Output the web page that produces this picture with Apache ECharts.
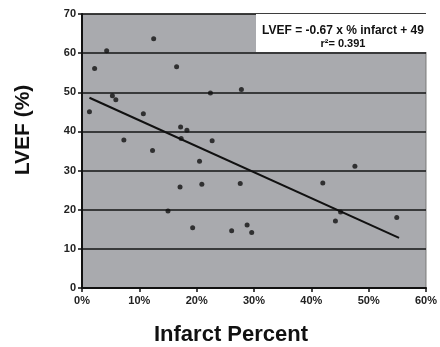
<!DOCTYPE html>
<html>
<head>
<meta charset="utf-8">
<script src="https://cdn.jsdelivr.net/npm/echarts@6/dist/echarts.min.js"></script>
<style>
  html, body { margin: 0; padding: 0; background: #fff; }
  #chart { width: 440px; height: 347px; }
</style>
</head>
<body>
<div id="chart"></div>
<script>
// infarct percent (x) and LVEF (y) for each patient
const infarct = [1.3, 2.2, 4.3, 5.3, 5.9, 7.3, 10.7, 12.5, 12.3, 16.5, 17.2, 17.3, 18.3, 20.5, 22.4, 22.7,
    27.8, 47.6, 15.0, 17.1, 20.9, 19.3, 27.6, 42.0, 26.1, 28.8, 29.6, 44.2, 45.1, 54.9]
const lvef = [45.0, 56.1, 60.6, 49.1, 48.1, 37.8, 44.5, 63.7, 35.1, 56.5, 41.1, 38.2, 40.3, 32.4, 49.8, 37.6,
    50.7, 31.1, 19.7, 25.8, 26.5, 15.4, 26.7, 26.8, 14.6, 16.1, 14.2, 17.1, 19.4, 18.0]
// regression line end points
const trendX = [1.3, 55.3]
const trendY = [48.6, 12.8]
const yTicks = [0, 10, 20, 30, 40, 50, 60, 70]
const xTicks = [0, 10, 20, 30, 40, 50, 60]

const font = 'Liberation Sans, Arial, sans-serif'
const chart = echarts.init(document.getElementById('chart'))

const option = {
    animation: false,
    backgroundColor: '#fff',
    grid: {
        left: 82, right: 11, top: 14, bottom: 59,
        show: true,
        backgroundColor: '#a9aaae',
        borderColor: '#7a7a7a',
        borderWidth: 1
    },
    xAxis: {
        type: 'value',
        min: xTicks[0], max: xTicks[xTicks.length - 1], interval: 10,
        axisLine: { lineStyle: { color: '#111', width: 2 } },
        axisTick: { show: true, length: 4, lineStyle: { color: '#111', width: 1.5 } },
        axisLabel: { formatter: '{value}%', color: '#222', fontWeight: 'bold', fontSize: 11, fontFamily: font, margin: 7 },
        splitLine: { show: false }
    },
    yAxis: {
        type: 'value',
        min: yTicks[0], max: yTicks[yTicks.length - 1], interval: 10,
        axisLine: { show: true, lineStyle: { color: '#111', width: 2 } },
        axisTick: { show: true, length: 4, lineStyle: { color: '#111', width: 1.5 } },
        axisLabel: { color: '#222', fontWeight: 'bold', fontSize: 11, fontFamily: font, margin: 6 },
        splitLine: { show: true, lineStyle: { color: '#151515', width: 1.5 } }
    },
    series: [
        {
            type: 'scatter',
            symbolSize: 5,
            itemStyle: { color: '#111' },
            data: infarct.map((x, i) => [x, lvef[i]]),
            z: 3
        },
        {
            type: 'line',
            symbol: 'none',
            lineStyle: { color: '#111', width: 2 },
            data: trendX.map((x, i) => [x, trendY[i]]),
            z: 2
        }
    ],
    graphic: [
        {
            type: 'rect',
            shape: { x: 256, y: 14, width: 172, height: 38 },
            style: { fill: '#fff' },
            z: 10
        },
        {
            type: 'text',
            x: 343, y: 31,
            style: {
                text: 'LVEF = -0.67 x % infarct + 49',
                font: 'bold 12px ' + font, fill: '#111',
                textAlign: 'center', textVerticalAlign: 'middle'
            },
            z: 11
        },
        {
            type: 'text',
            x: 343, y: 44,
            style: {
                text: 'r²= 0.391',
                font: 'bold 11px ' + font, fill: '#111',
                textAlign: 'center', textVerticalAlign: 'middle'
            },
            z: 11
        },
        {
            type: 'text',
            x: 23, y: 130,
            rotation: Math.PI / 2,
            style: {
                text: 'LVEF (%)',
                font: 'bold 21px ' + font, fill: '#111',
                textAlign: 'center', textVerticalAlign: 'middle'
            }
        },
        {
            type: 'text',
            x: 231, y: 335,
            style: {
                text: 'Infarct Percent',
                font: 'bold 22px ' + font, fill: '#111',
                textAlign: 'center', textVerticalAlign: 'middle'
            }
        }
    ]
}
chart.setOption(option)
</script>
</body>
</html>
